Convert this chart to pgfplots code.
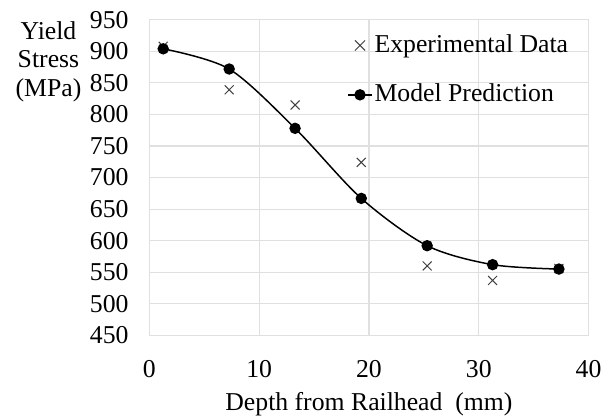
\documentclass[border=0pt]{standalone}
\usepackage{pgfplots}
\pgfplotsset{compat=1.18}
\usepackage{fontspec}
\setmainfont{Liberation Serif}
\pgfplotsset{
  xleg/.style={legend image code/.code={\draw[##1,mark size=3.6pt] plot coordinates {(5pt,0pt)};}},
  mleg/.style={legend image code/.code={\draw[##1,mark repeat=2,mark phase=2] plot coordinates {(-1pt,0pt) (5pt,0pt) (11pt,0pt)};}},
}
\begin{document}
\fontsize{13}{15}\selectfont
\begin{tikzpicture}
\begin{axis}[
  scale only axis, width=222pt, height=159.5pt,
  xmin=0, xmax=40, ymin=450, ymax=950,
  xtick={0,10,20,30,40}, ytick={450,500,...,950},
  grid=major, major grid style={draw=black!12, line width=0.6pt},
  axis line style={draw=black!12, line width=0.6pt},
  major tick length=0pt,
  /pgf/number format/assume math mode=true,
  ticklabel style={font=\fontsize{13}{15}\selectfont},
  yticklabel style={xshift=-6pt},
  xticklabel style={yshift=-8pt},
  clip=false,
  legend style={at={([yshift=-1.5pt]rel axis cs:0.45,0.97)}, anchor=north west, draw=none, fill=none,
    font=\fontsize{13}{15}\selectfont, row sep=12pt, inner sep=0pt,
    nodes={inner sep=1pt}},
  legend cell align=left,
]
\addplot[only marks, mark=x, mark size=3.2pt, draw=black!75, line width=0.5pt, xleg]
  coordinates {(1.26,908) (7.27,839) (13.27,815) (19.3,724) (25.3,560) (31.26,537) (37.3,556)};
\addlegendentry{Experimental Data}
\addplot[black, line width=0.75pt, smooth, tension=0.5, mark=*, mark size=2.5pt,
  mark options={fill=black}, mleg]
  coordinates {(1.26,904) (7.27,872) (13.27,778) (19.3,667) (25.3,592) (31.26,562) (37.3,555)};
\addlegendentry{Model Prediction}
\node[align=center, anchor=north, inner sep=0pt] at ([xshift=-51pt,yshift=-0.5pt]rel axis cs:0,1) {Yield\\[-0.5pt]Stress\\[-0.5pt](MPa)};
\node[anchor=center, inner sep=0pt] at ([yshift=-35pt]rel axis cs:0.5,0) {Depth from Railhead\ \ (mm)};
\path (rel axis cs:0,0) ++(-75.5pt,-41pt) rectangle ++(305pt,210.5pt);
\end{axis}
\end{tikzpicture}
\end{document}
